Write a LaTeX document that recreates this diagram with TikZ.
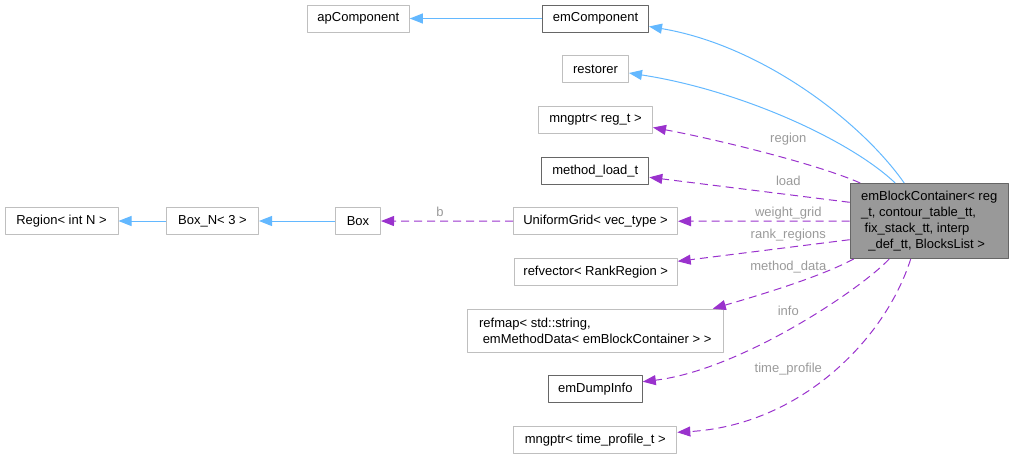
\documentclass[tikz,border=0pt]{standalone}
\usepackage{fontspec}
\setmainfont{Liberation Sans}
\usetikzlibrary{arrows.meta}
\definecolor{edgeblue}{HTML}{63B8FF}
\definecolor{edgepurple}{HTML}{9A32CD}
\definecolor{lblgray}{HTML}{9A9A9A}
\definecolor{boxgray}{HTML}{BFBFBF}
\definecolor{boxdark}{HTML}{666666}
\definecolor{fillgray}{HTML}{999999}
\begin{document}
\begin{tikzpicture}[x=1pt,y=1pt,line join=round,
  cls/.style={draw=boxgray,line width=1pt,fill=white,minimum height=27pt,inner sep=0pt,font=\fontsize{13}{16}\selectfont},
  clsdark/.style={cls,draw=boxdark},
  inherit/.style={draw=edgeblue,line width=1pt,-{Triangle[length=13pt,width=10pt]}},
  usage/.style={draw=edgepurple,line width=1pt,dash pattern=on 8pt off 5pt,-{Triangle[length=13pt,width=10pt]}},
  lbl/.style={text=lblgray,inner sep=0pt,font=\fontsize{13}{16}\selectfont}]
  \useasboundingbox (0,0) rectangle (1013,-459);
  \node[cls,minimum width=113pt] (region) at (61.5,-221) {Region< int N >};
  \node[cls,minimum width=92pt] (boxn) at (212.5,-221) {Box\_N< 3 >};
  \node[cls,minimum width=45pt] (box) at (358,-221) {Box};
  \node[cls,minimum width=102pt] (apc) at (358.3,-18.5) {apComponent};
  \node[clsdark,minimum width=106pt] (emc) at (595.5,-18.5) {emComponent};
  \node[cls,minimum width=66pt] (rst) at (595.5,-69) {restorer};
  \node[cls,minimum width=114pt] (mreg) at (595.5,-120) {mngptr< reg\_t >};
  \node[clsdark,minimum width=107pt] (mload) at (595.3,-170.7) {method\_load\_t};
  \node[cls,minimum width=164pt] (ugrid) at (595.5,-221.2) {UniformGrid< vec\_type >};
  \node[cls,minimum width=163pt] (rvec) at (595.7,-272) {refvector< RankRegion >};
  \node[cls,minimum width=256pt,minimum height=43pt,align=left] (rmap) at (595.3,-330.7)
    {refmap< std::string,\\\hspace*{3.6pt}emMethodData< emBlockContainer > >};
  \node[clsdark,minimum width=94pt] (dump) at (595.3,-389.2) {emDumpInfo};
  \node[cls,minimum width=163pt] (mtime) at (595.3,-440) {mngptr< time\_profile\_t >};
  \node[clsdark,fill=fillgray,minimum width=158pt,minimum height=75pt,align=left] (bc) at (929.2,-221)
    {emBlockContainer< reg\\\_t, contour\_table\_tt,\\\hspace*{3.6pt}fix\_stack\_tt, interp\\\hspace*{7.2pt}\_def\_tt, BlocksList >};

  \draw[inherit] (boxn) -- (region);
  \draw[inherit] (box) -- (boxn);
  \draw[inherit] (emc) -- (apc);
  \draw[inherit] ([xshift=-25pt]bc.north) .. controls (860,-120) and (760,-45) .. ([yshift=-8pt]emc.east);
  \draw[inherit] ([xshift=-34pt]bc.north) .. controls (850,-140) and (740,-90) .. ([yshift=-4pt]rst.east);
  \draw[usage] ([xshift=-69pt]bc.north) .. controls (820,-165) and (720,-140) .. ([yshift=-7.5pt]mreg.east);
  \draw[usage] ([yshift=18.7pt]bc.west) -- ([yshift=-6.6pt]mload.east);
  \draw[usage] (bc.west) -- (ugrid.east);
  \draw[usage] ([yshift=-18.7pt]bc.west) -- ([yshift=10.7pt]rvec.east);
  \draw[usage] ([xshift=4pt]bc.south west) .. controls (820,-277) and (760,-295) .. ([xshift=-11pt]rmap.north east);
  \draw[usage] ([xshift=-40pt]bc.south) .. controls (860,-290) and (740,-370) .. ([yshift=7.5pt]dump.east);
  \draw[usage] ([xshift=-18.5pt]bc.south) .. controls (885,-340) and (800,-425) .. ([yshift=7.7pt]mtime.east);
  \draw[usage] (ugrid) -- (box);

  \node[lbl] (lregion) at (788.3,-138.7) {region};
  \node[lbl] (lload) at (788.3,-181.3) {load};
  \node[lbl] (lgrid) at (788.3,-213.3) {weight\_grid};
  \node[lbl] (lrank) at (788.3,-234.7) {rank\_regions};
  \node[lbl] (ldata) at (788.3,-266.7) {method\_data};
  \node[lbl] (linfo) at (788.3,-310.7) {info};
  \node[lbl] (ltime) at (788.3,-368.7) {time\_profile};
  \node[lbl] (lb) at (440,-212) {b};
\end{tikzpicture}
\end{document}
